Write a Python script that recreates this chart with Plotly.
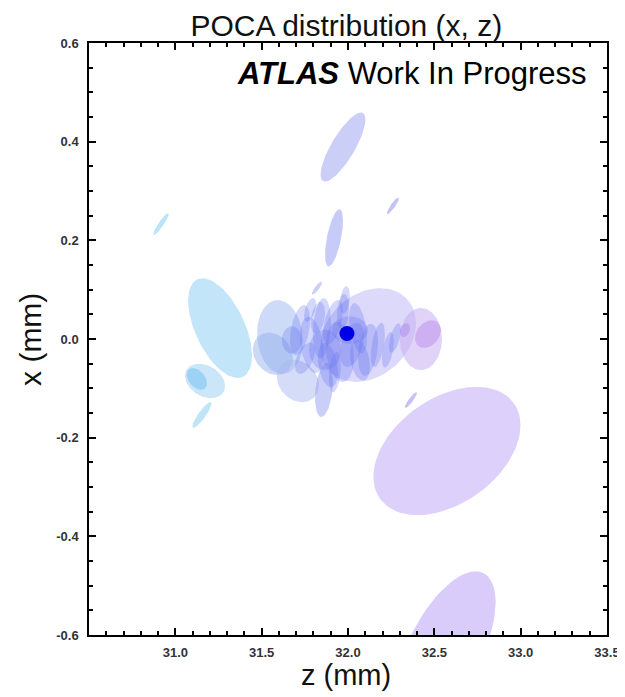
import numpy as np
import plotly.graph_objects as go

# Ellipse data (POCA uncertainties): centre z, centre x (mm), sigma_z, sigma_x (mm), correlation, fill colour
ell_z = [30.917, 31.259, 31.172, 31.125, 31.154,
         32.116, 31.606, 31.565, 31.710, 31.861, 32.422, 32.463, 32.330, 32.364, 31.820,
         31.971, 32.260, 31.919, 32.573, 32.565]
ell_x = [0.233, 0.022, -0.085, -0.081, -0.154,
         0.008, 0.004, -0.030, -0.085, -0.103, 0.000, 0.010, 0.018, -0.124, 0.103,
         0.389, 0.270, 0.205, -0.227, -0.627]
ell_sz = [0.045, 0.185, 0.116, 0.058, 0.055,
          0.278, 0.133, 0.116, 0.122, 0.052, 0.122, 0.075, 0.029, 0.035, 0.029,
          0.130, 0.035, 0.052, 0.426, 0.290]
ell_sx = [0.022, 0.101, 0.035, 0.022, 0.026,
          0.095, 0.075, 0.043, 0.043, 0.055, 0.063, 0.028, 0.014, 0.016, 0.013,
          0.070, 0.017, 0.058, 0.130, 0.156]
ell_rho = [0.92, -0.55, -0.3, -0.4, 0.88,
           0.25, -0.1, -0.2, -0.2, 0.3, 0.0, 0.3, 0.3, 0.9, 0.85,
           0.8, 0.9, 0.6, 0.4, 0.6]
ell_color = ["rgba(130,205,245,0.55)", "rgba(170,218,247,0.7)", "rgba(150,205,242,0.5)",
             "rgba(110,190,240,0.5)", "rgba(140,205,242,0.55)",
             "rgba(185,180,245,0.5)", "rgba(165,190,242,0.55)", "rgba(140,170,235,0.45)",
             "rgba(170,185,240,0.5)", "rgba(150,160,240,0.5)", "rgba(200,175,240,0.55)",
             "rgba(185,140,238,0.5)", "rgba(170,140,235,0.5)", "rgba(160,150,240,0.6)",
             "rgba(160,165,240,0.55)",
             "rgba(190,195,245,0.8)", "rgba(170,170,240,0.7)", "rgba(185,190,245,0.8)",
             "rgba(215,200,250,0.85)", "rgba(210,195,250,0.85)"]

# Tracks clustered near the vertex
clu_z = [31.722, 31.791, 31.849, 31.913, 31.953, 32.023, 32.058, 32.116, 32.173, 32.231, 31.884,
         31.826, 31.971, 32.272, 31.751, 31.924, 32.011, 31.675, 31.867, 32.069, 31.780, 31.982]
clu_x = [0.018, -0.012, 0.022, 0.034, -0.026, -0.012, 0.022, -0.022, -0.012, -0.022, -0.053,
         0.043, 0.055, 0.002, -0.039, -0.067, 0.018, -0.002, -0.022, -0.043, 0.059, 0.079]
clu_sz = [0.058, 0.069, 0.052, 0.058, 0.081, 0.069, 0.052, 0.058, 0.041, 0.035, 0.058,
          0.041, 0.035, 0.035, 0.058, 0.035, 0.104, 0.058, 0.093, 0.058, 0.035, 0.029]
clu_sx = [0.051, 0.057, 0.061, 0.045, 0.061, 0.045, 0.051, 0.053, 0.045, 0.036, 0.045,
          0.032, 0.036, 0.030, 0.032, 0.041, 0.028, 0.028, 0.041, 0.041, 0.024, 0.028]
clu_rho = [0.4, -0.3, 0.2, 0.5, -0.2, 0.4, -0.4, 0.3, 0.5, 0.5, -0.3,
           0.3, 0.2, 0.6, 0.5, 0.3, 0.0, 0.0, 0.0, -0.3, 0.5, 0.3]
clu_color = "rgba(95,112,240,0.27)"

# Vertex (reconstructed primary) position
vtx_z = [31.994]
vtx_x = [0.011]

x_ticks = [31.0, 31.5, 32.0, 32.5, 33.0, 33.5]
y_ticks = [0.6, 0.4, 0.2, 0.0, -0.2, -0.4, -0.6]

fig = go.Figure()
t = np.linspace(0, 2 * np.pi, 90)


def add_ellipse(cz, cx, sz, sx, r, c):
    zz = cz + sz * np.cos(t)
    xx = cx + sx * (r * np.cos(t) + np.sqrt(1 - r * r) * np.sin(t))
    fig.add_trace(go.Scatter(x=zz, y=xx, mode="lines", fill="toself", fillcolor=c,
                             line=dict(width=0), hoverinfo="skip", showlegend=False))


for p in zip(ell_z, ell_x, ell_sz, ell_sx, ell_rho, ell_color):
    add_ellipse(*p)
for cz, cx, sz, sx, r in zip(clu_z, clu_x, clu_sz, clu_sx, clu_rho):
    add_ellipse(cz, cx, sz, sx, r, clu_color)

fig.add_trace(go.Scatter(x=vtx_z, y=vtx_x, mode="markers",
                         marker=dict(size=15, color="#0000e6"), showlegend=False))

tickfont = dict(family="Liberation Sans", size=13, color="#333", weight="bold")
fig.update_layout(
    width=613, height=686,
    margin=dict(l=81, r=14, t=35, b=59),
    plot_bgcolor="white", paper_bgcolor="white",
    font=dict(family="Liberation Sans", color="black"),
    title=dict(text="POCA distribution (x, z)", x=0.552, xanchor="center", y=0.974, yanchor="middle",
               font=dict(size=30, color="#111")),
    xaxis=dict(range=[30.5, 33.5], tickvals=x_ticks, ticktext=[f"{v:.1f}" for v in x_ticks],
               ticks="inside", ticklen=7, tickwidth=1.5, tickcolor="black",
               minor=dict(dtick=0.1, tick0=30.5, ticks="inside", ticklen=4, tickcolor="black"),
               showline=True, linecolor="black", linewidth=1.5, mirror="ticks",
               showgrid=False, zeroline=False, tickfont=tickfont, ticklabelstandoff=5,
               ticklabeloverflow="allow", automargin=False),
    yaxis=dict(range=[-0.6, 0.6], tickvals=y_ticks, ticktext=[f"{v:.1f}" for v in y_ticks],
               ticks="inside", ticklen=7, tickwidth=1.5, tickcolor="black",
               minor=dict(dtick=0.05, tick0=0, ticks="inside", ticklen=4, tickcolor="black"),
               showline=True, linecolor="black", linewidth=1.5, mirror="ticks",
               showgrid=False, zeroline=False, tickfont=tickfont, ticklabelstandoff=6,
               ticklabeloverflow="allow", automargin=False),
    annotations=[
        dict(text="<b><i>ATLAS</i></b> Work In Progress", xref="paper", yref="paper",
             x=0.965, y=0.949, xanchor="right", yanchor="middle", showarrow=False,
             font=dict(size=31, color="black")),
        dict(text="z (mm)", xref="paper", yref="paper", x=0.497, y=-0.067,
             xanchor="center", yanchor="middle", showarrow=False,
             font=dict(size=29, color="#111")),
        dict(text="x (mm)", xref="paper", yref="paper", x=-0.114, y=0.50, textangle=-90,
             xanchor="center", yanchor="middle", showarrow=False,
             font=dict(size=30, color="#111")),
    ],
)

fig.write_html("out.html")
